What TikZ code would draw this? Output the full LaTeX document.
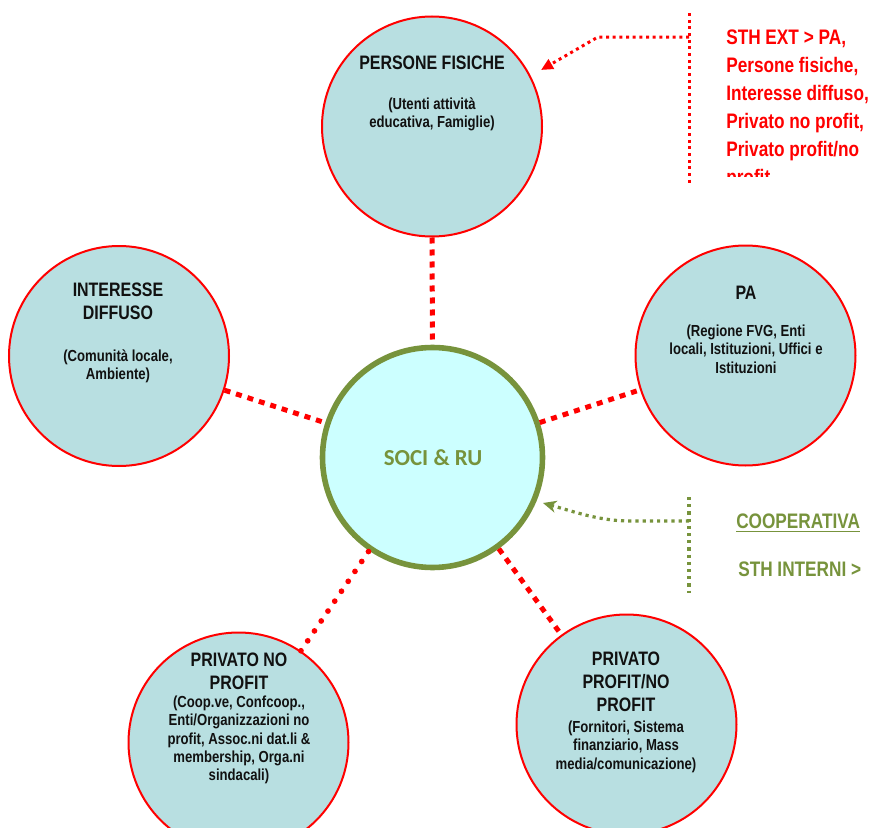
\documentclass[tikz,border=0pt]{standalone}
\usepackage{fontspec}
\setmainfont{Liberation Sans}
\newfontfamily\narrowfont{Liberation Sans}[FakeStretch=0.82]
\newfontfamily\calibfont{Carlito}
\usetikzlibrary{arrows.meta}
\definecolor{bubblefill}{HTML}{B8DFE1}
\definecolor{socifill}{HTML}{CCFFFF}
\definecolor{oliv}{HTML}{77933C}
\definecolor{redline}{HTML}{FF0000}
\definecolor{txt}{HTML}{111111}
\tikzset{
 bubble/.style={circle, draw=redline, line width=1.5pt, fill=bubblefill, minimum size=165pt, inner sep=0pt},
 socibubble/.style={circle, draw=oliv, line width=4.2pt, fill=socifill, minimum size=165pt, inner sep=0pt},
 ttl/.style={anchor=north, inner sep=0pt, align=center, text=txt, font=\narrowfont\bfseries\fontsize{14.6}{17}\selectfont},
 subt/.style={anchor=north, inner sep=0pt, align=center, text=txt, font=\narrowfont\bfseries\fontsize{12}{13.6}\selectfont},
 link/.style={draw=redline, line width=3.75pt, dash pattern=on 4.5pt off 4.5pt},
 roundlink/.style={draw=redline, line width=4.3pt, line cap=round, dash pattern=on 0pt off 9pt},
 reddots/.style={draw=redline, line width=2.25pt, dash pattern=on 2.25pt off 2.75pt},
 greendots/.style={draw=oliv, line width=2.4pt, dash pattern=on 2.4pt off 3pt},
 note/.style={anchor=north west, inner sep=0pt, align=left, font=\narrowfont\bfseries\fontsize{15.75}{21}\selectfont}
}
\begin{document}
\begin{tikzpicture}[x=0.75pt, y=-0.75pt]
\useasboundingbox (0,0) rectangle (869,828);

% circles
\node[bubble] (pf) at (432,126.5) {};
\node[bubble] (id) at (119,356) {};
\node[bubble] (pa) at (745.5,355.5) {};
\node[bubble] (pnp) at (238.5,742.5) {};
\node[bubble] (pp) at (626.5,724.5) {};
\node[socibubble] (soci) at (432.5,457.5) {};

% connectors
\draw[link] (pf) -- (soci);
\draw[link] (id) -- (soci);
\draw[link] (soci) -- (pa);
\draw[link] (soci) -- (pp);
\draw[roundlink] (pnp) -- (soci);

% texts in circles
\node[ttl] (pft) at (432,56) {PERSONE FISICHE};
\node[subt] (pfs) at (432,97) {(Utenti attività\\educativa, Famiglie)};

\node[ttl] (idt) at (118,283) {INTERESSE\\DIFFUSO};
\node[subt] (ids) at (118,349) {(Comunità locale,\\Ambiente)};

\node[ttl] (pat) at (746,286) {PA};
\node[subt] (pas) at (746,325) {(Regione FVG, Enti\\locali, Istituzioni, Uffici e\\Istituzioni};

\node[ttl] (pnpt) at (239,653) {PRIVATO NO\\PROFIT};
\node[subt] (pnps) at (239,696) {(Coop.ve, Confcoop.,\\Enti/Organizzazioni no\\profit, Assoc.ni dat.li \&\\membership, Orga.ni\\sindacali)};

\node[ttl] (ppt) at (626,652) {PRIVATO\\PROFIT/NO\\PROFIT};
\node[subt] (pps) at (626,721) {(Fornitori, Sistema\\finanziario, Mass\\media/comunicazione)};

\node[text=oliv, inner sep=0pt, font=\calibfont\bfseries\fontsize{17.2}{20}\selectfont] (socit) at (433,458) {SOCI \& RU};

% red annotation
\coordinate (rt) at (689,13);
\coordinate (rb) at (689,186);
\coordinate (rj) at (689,37);
\coordinate (rk) at (598,37);
\coordinate (rtip) at (541,70);
\draw[reddots] (rt) -- (rb);
\draw[reddots, -{Triangle[length=9pt,width=8pt]}] (rj) -- (rk) -- (rtip);
\begin{scope}
\clip (700,0) rectangle (869,176);
\node[note, text=redline] (ext) at (726,30) {STH EXT > PA,\\Persone fisiche,\\Interesse diffuso,\\Privato no profit,\\Privato profit/no\\profit};
\end{scope}

% green annotation
\coordinate (gt) at (689,497);
\coordinate (gb) at (689,593);
\coordinate (gj) at (689,521);
\coordinate (gk) at (630,521);
\coordinate (gtip) at (543,503);
\draw[greendots] (gt) -- (gb);
\draw[greendots, -{Stealth[length=10pt,width=9pt,inset=3pt]}] (gj) -- (gk) .. controls (600,521) and (575,512) .. (gtip);
\node[note, text=oliv] (coop) at (736,514) {\underline{COOPERATIVA}};
\node[note, text=oliv] (int) at (738,562) {STH INTERNI >};
\end{tikzpicture}
\end{document}
